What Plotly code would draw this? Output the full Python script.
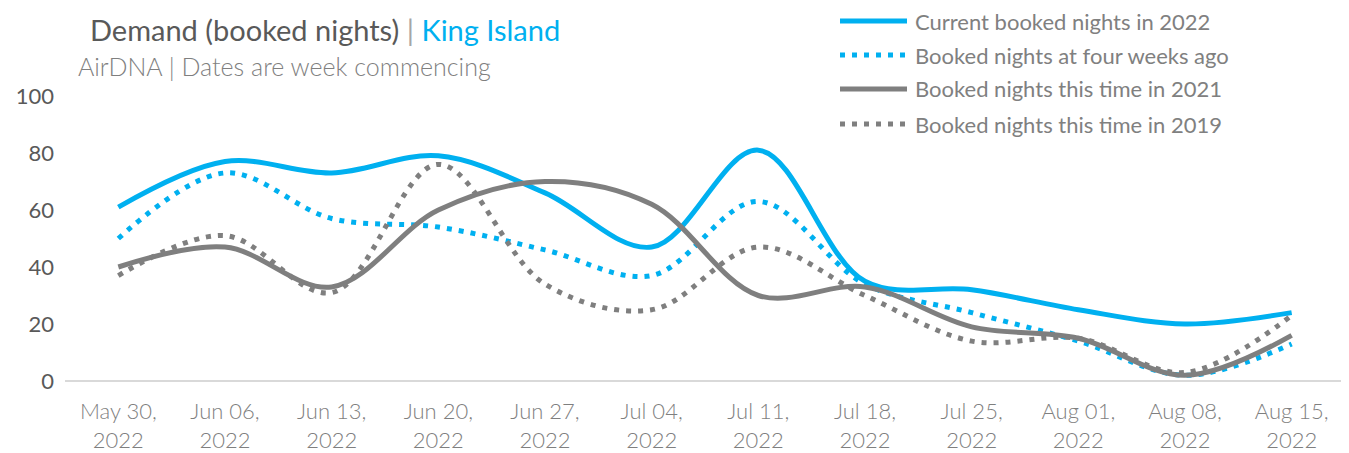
import plotly.graph_objects as go

weeks = ["May 30,<br>2022", "Jun 06,<br>2022", "Jun 13,<br>2022", "Jun 20,<br>2022",
         "Jun 27,<br>2022", "Jul 04,<br>2022", "Jul 11,<br>2022", "Jul 18,<br>2022",
         "Jul 25,<br>2022", "Aug 01,<br>2022", "Aug 08,<br>2022", "Aug 15,<br>2022"]
current_2022 = [61, 77, 73, 79, 66, 47, 81, 35, 32, 25, 20, 24]
four_weeks_ago = [50, 73, 57, 54, 46, 37, 63, 34, 24, 14, 2, 13]
this_time_2021 = [40, 47, 33, 60, 70, 62, 30, 33, 19, 15, 2, 16]
this_time_2019 = [37, 51, 31, 76, 34, 25, 47, 30, 14, 15, 3, 23]

names = ["Current booked nights in 2022", "Booked nights at four weeks ago",
         "Booked nights this time in 2021", "Booked nights this time in 2019"]

BLUE = "#00B0F0"
GREY = "#7F7F7F"
FONT = "Lato"

styles = [
    dict(color=BLUE, width=5, dash="solid"),
    dict(color=BLUE, width=5, dash="5px,7px"),
    dict(color=GREY, width=5, dash="solid"),
    dict(color=GREY, width=5, dash="5px,7px"),
]
series = [current_2022, four_weeks_ago, this_time_2021, this_time_2019]

fig = go.Figure()
x_idx = list(range(len(weeks)))
for name, vals, st in zip(names, series, styles):
    fig.add_trace(go.Scatter(x=x_idx, y=vals, mode="lines", name=name,
                             line=dict(shape="spline", smoothing=1.0, **st),
                             showlegend=False))

# page body has an 8px default margin; lay out in page pixels minus that offset
OFF = 8
W, H = 1349 - OFF, 453 - OFF
L = 65 - OFF
T = 96 - OFF
B = H - (381 - OFF)
R = W - (1345 - OFF)
pw = W - L - R
ph = H - T - B

def px_x(px):
    return (px - OFF - L) / pw

def px_y(py):
    return (H - B - (py - OFF)) / ph

shapes = []
annotations = []
leg_rows = [21, 55, 89, 124]
for i, (name, st) in enumerate(zip(names, styles)):
    y = px_y(leg_rows[i])
    shapes.append(dict(type="line", xref="paper", yref="paper",
                       x0=px_x(840), x1=px_x(907), y0=y, y1=y,
                       line=dict(color=st["color"], width=st["width"], dash=st["dash"])))
    annotations.append(dict(text=name, xref="paper", yref="paper",
                            x=px_x(913), y=y, xanchor="left", yanchor="middle",
                            showarrow=False,
                            font=dict(family=FONT, size=22, color="#808080", weight=400)))

annotations.append(dict(text="Demand (booked nights) <span style='color:#A6A6A6'>|</span> <span style='color:#00B0F0'>King Island</span>",
                        xref="paper", yref="paper", x=px_x(88), y=px_y(30),
                        xanchor="left", yanchor="middle", showarrow=False,
                        font=dict(family=FONT, size=29, color="#595959", weight=400)))
annotations.append(dict(text="AirDNA | Dates are week commencing",
                        xref="paper", yref="paper", x=px_x(76), y=px_y(66),
                        xanchor="left", yanchor="middle", showarrow=False,
                        font=dict(family=FONT, size=25, color="#7F7F7F", weight=300)))

fig.update_layout(
    width=W, height=H,
    margin=dict(l=L, r=R, t=T, b=B, autoexpand=False),
    paper_bgcolor="white", plot_bgcolor="white",
    shapes=shapes, annotations=annotations,
    font=dict(family=FONT, color="#595959"),
    xaxis=dict(tickmode="array", tickvals=x_idx, ticktext=weeks,
               range=[-0.5, len(weeks) - 0.5], showgrid=False, zeroline=False,
               showline=False, ticks="",
               tickfont=dict(size=22, color="#7F7F7F", weight=300),
               ticklabelstandoff=15),
    yaxis=dict(range=[0, 100], tickvals=[0, 20, 40, 60, 80, 100], showgrid=False,
               zeroline=True, zerolinecolor="#D9D9D9", zerolinewidth=2,
               showline=False, ticks="",
               tickfont=dict(size=22, color="#595959", weight=400),
               ticklabelstandoff=10),
)

fig.write_html("out.html")
